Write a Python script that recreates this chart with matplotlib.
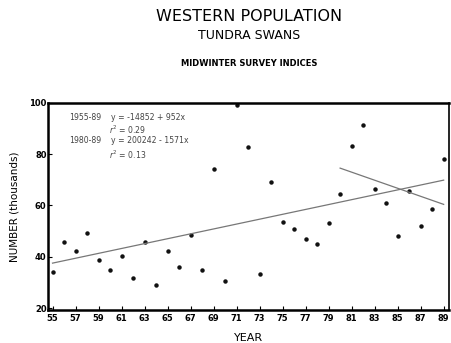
import numpy as np
import matplotlib.pyplot as plt

# midwinter survey indices, thousands of birds
years = list(range(55, 90))
counts = [34.1, 45.6, 42.3, 49.3, 38.9, 34.9, 40.1, 31.6, 45.8, 28.8,
          42.2, 35.9, 48.4, 35.0, 74.4, 30.4, 99.2, 82.7, 33.2, 69.0,
          53.6, 50.7, 46.8, 45.0, 53.0, 64.6, 83.3, 91.4, 66.5, 61.1,
          48.0, 65.5, 52.1, 58.5, 78.2]

# regression fits (y in birds, x in two-digit year)
fit_all = (-14852, 952, 55, 89)
fit_80s = (200242, -1571, 80, 89)

xticks = list(range(55, 90, 2))
yticks = [20, 40, 60, 80, 100]

fig = plt.figure(figsize=(4.52, 3.43), dpi=100)
ax = fig.add_axes([0.106, 0.096, 0.887, 0.604])

ax.plot(years, counts, 'o', color='#111111', markersize=2.2)

for a, b, x0, x1 in [fit_all, fit_80s]:
    xs = np.array([x0, x1])
    ax.plot(xs, (a + b * xs) / 1000.0, color='#777777', linewidth=0.9)

ax.set_xlim(54.6, 89.45)
ax.set_ylim(19.2, 100)
ax.set_xticks(xticks)
ax.set_yticks(yticks)
ax.tick_params(axis='both', direction='in', length=3, width=0.8,
               labelsize=6, pad=3)
for lab in ax.get_xticklabels() + ax.get_yticklabels():
    lab.set_fontweight('bold')
ax.tick_params(axis='y', pad=1)

for side in ['left', 'bottom', 'top']:
    ax.spines[side].set_linewidth(1.8)
ax.spines['right'].set_linewidth(1.2)

ax.set_ylabel('NUMBER (thousands)', fontsize=7.5, labelpad=7)
ax.set_xlabel('YEAR', fontsize=8, labelpad=7)

# annotation block
note = dict(fontsize=5.6, color='#444444', va='center')
ax.text(56.4, 94.5, '1955-89', **note)
ax.text(60.1, 94.5, 'y = -14852 + 952x', **note)
ax.text(59.9, 89.5, '$r^2$ = 0.29', **note)
ax.text(56.4, 85.2, '1980-89', **note)
ax.text(60.1, 85.2, 'y = 200242 - 1571x', **note)
ax.text(59.9, 79.9, '$r^2$ = 0.13', **note)

fig.text(0.551, 0.952, 'WESTERN POPULATION', ha='center', va='center', fontsize=11.5)
fig.text(0.551, 0.897, 'TUNDRA SWANS', ha='center', va='center', fontsize=9)
fig.text(0.551, 0.816, 'MIDWINTER SURVEY INDICES', ha='center', va='center',
         fontsize=6, fontweight='bold')

fig.savefig('out.png', dpi=100)
